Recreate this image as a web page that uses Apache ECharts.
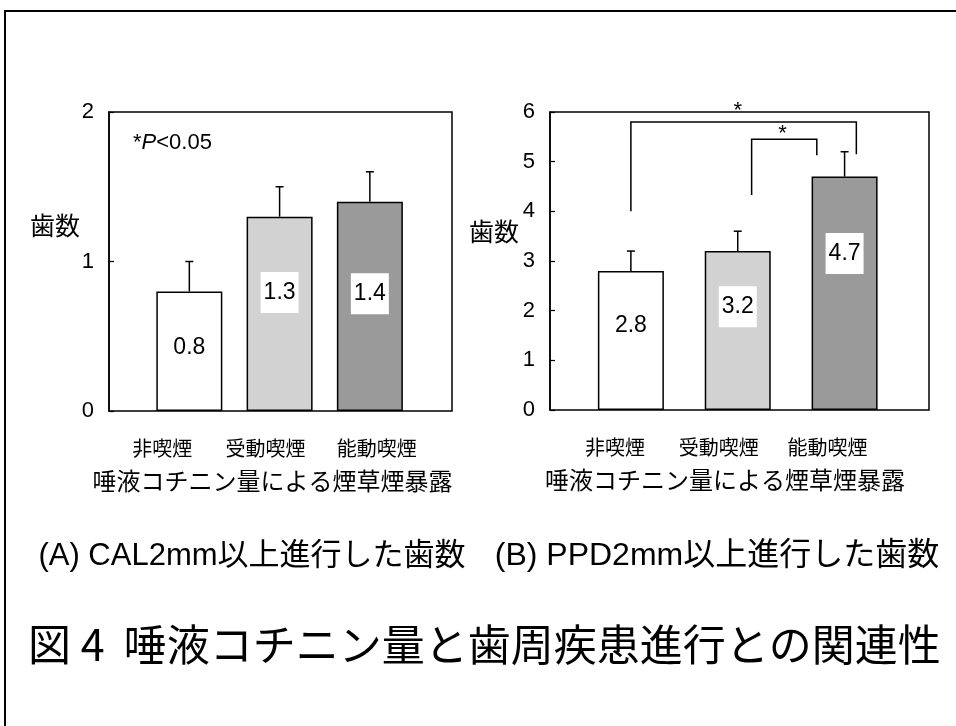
<!DOCTYPE html>
<html>
<head>
<meta charset="utf-8">
<title>図4 唾液コチニン量と歯周疾患進行との関連性</title>
<script src="https://cdn.jsdelivr.net/npm/echarts@6/dist/echarts.min.js"></script>
<style>
html,body{margin:0;padding:0;background:#fff}
#main{width:956px;height:726px}
</style>
</head>
<body>
<div id="main"></div>
<script>
// data
var categories = ['非喫煙', '受動喫煙', '能動喫煙'];
var calValues = [0.8, 1.3, 1.4];      // (A) CAL2mm以上進行した歯数
var calErrors = [0.2, 0.2, 0.2];
var ppdValues = [2.8, 3.2, 4.7];      // (B) PPD2mm以上進行した歯数
var ppdErrors = [0.4, 0.4, 0.5];
var calTicks = {min: 0, max: 2, interval: 1};
var ppdTicks = {min: 0, max: 6, interval: 1};
// significance brackets on (B), in category / value units
var brackets = [
	{x1: 0, x2: 2.11, left: 4.0, top: 5.8, right: 5.15, starX: 1.0, starY: 6.13},
	{x1: 1.13, x2: 1.74, left: 4.33, top: 5.45, right: 5.13, starX: 1.42, starY: 5.65}
];

// styles
var barColors = ['#ffffff', '#d2d2d2', '#9a9a9a'];
var calLabelY = ['47%', '39%', '44%'];
var ppdLabelY = ['39%', '35%', '33%'];
var calCatShift = [-27, -14, 7];
var ppdCatShift = [-16, -19, -17];
var latin = '"Liberation Sans", Arial, sans-serif';
var cjk = '"Noto Sans CJK JP", "Noto Sans", sans-serif';
var mixed = '"Liberation Sans", "Noto Sans CJK JP", sans-serif';

var chart = echarts.init(document.getElementById('main'));

function barData(vals, labelY) {
	return vals.map(function (v, i) {
		return {
			value: [i, v],
			itemStyle: {color: barColors[i]},
			label: {position: ['50%', labelY[i]]}
		};
	});
}

function catRich(shift) {
	var rich = {};
	shift.forEach(function (s, i) {
		rich['c' + i] = {
			fontSize: 20, fontFamily: cjk, color: '#000',
			padding: s < 0 ? [0, -2 * s, 0, 0] : [0, 0, 0, 2 * s]
		};
	});
	return rich;
}

function xAxisFor(gi, min, max, shift, namePad) {
	return {
		gridIndex: gi, type: 'value', min: min, max: max,
		axisLine: {show: false}, axisTick: {show: false}, splitLine: {show: false},
		axisLabel: {
			customValues: [0, 1, 2], margin: 27,
			formatter: function (v) {
				var i = Math.round(v);
				return '{c' + i + '|' + categories[i] + '}';
			},
			rich: catRich(shift)
		},
		name: '唾液コチニン量による煙草煙暴露', nameLocation: 'middle', nameGap: 58,
		nameTextStyle: {fontSize: 24, fontFamily: cjk, color: '#000', padding: namePad}
	};
}

function yAxisFor(gi, t) {
	return {
		gridIndex: gi, type: 'value', min: t.min, max: t.max, interval: t.interval,
		axisLine: {show: true, onZero: false, lineStyle: {color: '#000', width: 1.5}},
		axisTick: {show: true, inside: true, length: 5, lineStyle: {color: '#000', width: 1.2}},
		axisLabel: {fontSize: 22, color: '#000', margin: 15, fontFamily: latin},
		splitLine: {show: false}
	};
}

function barSeries(gi, vals, labelY) {
	return {
		type: 'bar', xAxisIndex: gi, yAxisIndex: gi, barWidth: 66,
		data: barData(vals, labelY),
		itemStyle: {borderColor: '#000', borderWidth: 1.5},
		label: {
			show: true, align: 'center', verticalAlign: 'middle',
			formatter: function (p) { return p.value[1].toFixed(1); },
			fontSize: 23, fontFamily: latin, color: '#000',
			backgroundColor: '#fff', padding: [9, 3]
		},
		z: 2
	};
}

function errorSeries(gi, vals, errs) {
	return {
		type: 'custom', xAxisIndex: gi, yAxisIndex: gi, silent: true, z: 3,
		data: vals.map(function (v, i) { return [i, v, v + errs[i]]; }),
		renderItem: function (params, api) {
			var b = api.coord([api.value(0), api.value(1)]);
			var t = api.coord([api.value(0), api.value(2)]);
			var st = {stroke: '#000', lineWidth: 1.5};
			return {type: 'group', children: [
				{type: 'line', shape: {x1: b[0], y1: b[1], x2: t[0], y2: t[1]}, style: st},
				{type: 'line', shape: {x1: t[0] - 4, y1: t[1], x2: t[0] + 4, y2: t[1]}, style: st}
			]};
		}
	};
}

var bracketSeries = {
	type: 'custom', xAxisIndex: 1, yAxisIndex: 1, silent: true, z: 3,
	data: brackets.map(function (b) { return [b.x1, b.x2, b.left, b.top, b.right, b.starX, b.starY]; }),
	renderItem: function (params, api) {
		var p1 = api.coord([api.value(0), api.value(2)]);
		var p2 = api.coord([api.value(0), api.value(3)]);
		var p3 = api.coord([api.value(1), api.value(3)]);
		var p4 = api.coord([api.value(1), api.value(4)]);
		var s = api.coord([api.value(5), api.value(6)]);
		return {type: 'group', children: [
			{type: 'polyline', shape: {points: [p1, p2, p3, p4]}, style: {stroke: '#000', lineWidth: 1.5, fill: null}},
			{type: 'text', style: {text: '*', x: s[0], y: s[1] + 5, align: 'center', verticalAlign: 'middle',
				fontSize: 22, fontFamily: latin, fill: '#000'}}
		]};
	}
};

var option = {
	backgroundColor: '#fff',
	animation: false,
	grid: [
		{left: 109, top: 112, width: 343, height: 299, show: true, borderColor: '#000', borderWidth: 1.5, backgroundColor: 'transparent'},
		{left: 550, top: 112, width: 379, height: 298, show: true, borderColor: '#000', borderWidth: 1.5, backgroundColor: 'transparent'}
	],
	xAxis: [
		xAxisFor(0, -0.89, 2.91, calCatShift, [0, 16, 0, 0]),
		xAxisFor(1, -0.757, 2.79, ppdCatShift, [0, 29, 0, 0])
	],
	yAxis: [yAxisFor(0, calTicks), yAxisFor(1, ppdTicks)],
	series: [
		barSeries(0, calValues, calLabelY),
		errorSeries(0, calValues, calErrors),
		barSeries(1, ppdValues, ppdLabelY),
		errorSeries(1, ppdValues, ppdErrors),
		bracketSeries
	],
	graphic: [
		{type: 'polyline', shape: {points: [[5, 726], [5, 11], [956, 11]]}, style: {stroke: '#000', lineWidth: 2, fill: null}},
		{type: 'text', x: 55, y: 225, style: {text: '歯数', fontSize: 25, fontFamily: cjk, fill: '#000', align: 'center', verticalAlign: 'middle'}},
		{type: 'text', x: 494, y: 231, style: {text: '歯数', fontSize: 25, fontFamily: cjk, fill: '#000', align: 'center', verticalAlign: 'middle'}},
		{type: 'text', x: 133, y: 143, style: {
			text: '*{i|P}<0.05', fontSize: 22, fontFamily: latin, fill: '#000', verticalAlign: 'middle',
			rich: {i: {fontStyle: 'italic', fontSize: 22, fontFamily: latin}}
		}},
		{type: 'text', x: 252, y: 556, style: {text: '(A) CAL2mm以上進行した歯数', fontSize: 31, fontFamily: mixed, fill: '#000', align: 'center', verticalAlign: 'middle'}},
		{type: 'text', x: 717, y: 556, style: {text: '(B) PPD2mm以上進行した歯数', fontSize: 32, fontFamily: mixed, fill: '#000', align: 'center', verticalAlign: 'middle'}},
		{type: 'text', x: 28, y: 645, style: {text: '図 4  唾液コチニン量と歯周疾患進行との関連性', fontSize: 43, fontFamily: cjk, fill: '#000', verticalAlign: 'middle'}}
	]
};
chart.setOption(option);
</script>
</body>
</html>
